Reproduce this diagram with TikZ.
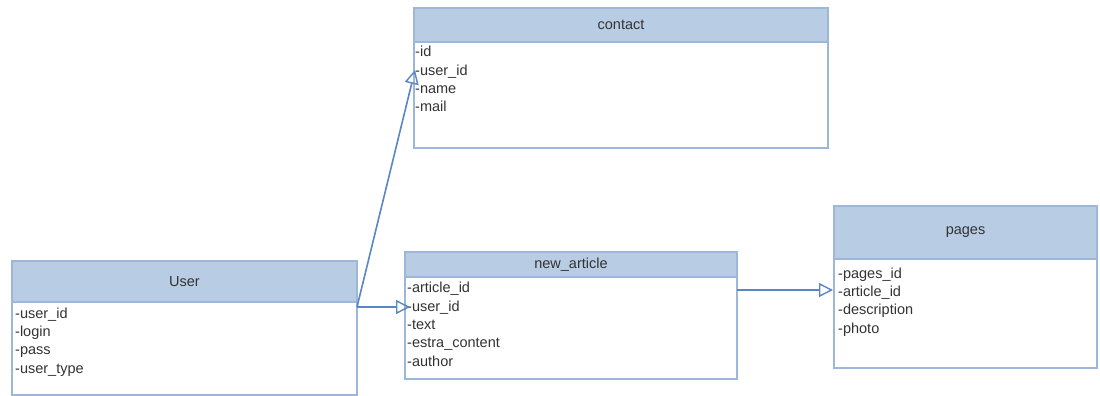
\documentclass[tikz,border=0pt]{standalone}
\usepackage{fontspec}
\setmainfont{Liberation Sans}
\usetikzlibrary{arrows.meta}
\definecolor{hdr}{HTML}{B8CCE4}
\definecolor{edge}{HTML}{9DB7DA}
\definecolor{link}{HTML}{5A86C2}
\definecolor{ink}{HTML}{333333}
\begin{document}
\begin{tikzpicture}[x=1pt,y=-1pt,
  box/.style={draw=edge, line width=1.3pt, fill=white, anchor=north west,
    inner sep=0pt, outer sep=0pt},
  head/.style={draw=edge, line width=1.3pt, fill=hdr, anchor=north west,
    inner sep=0pt, outer sep=0pt, text=ink, font=\fontsize{14.5}{17}\selectfont},
  attr/.style={anchor=west, inner sep=0pt, text height=10pt, text depth=3pt,
    text=ink, font=\fontsize{14.5}{17}\selectfont},
  rel/.style={draw=link, line width=1.6pt,
    -{Triangle[open, length=14pt, width=14pt, line width=1.4pt]}}]
\useasboundingbox (0,0) rectangle (1100,396);
\fill[white] (0,0) rectangle (1100,396);

% contact table
\node[box, minimum width=414pt, minimum height=140pt] (contact) at (414,8) {};
\node[head, minimum width=414pt, minimum height=34pt] (contactH) at (414,8) {contact};
\node[attr] (c1) at (415,53) {-id};
\node[attr] (c2) at (415,72) {-user\_id};
\node[attr] (c3) at (415,90) {-name};
\node[attr] (c4) at (415,108) {-mail};

% User table
\node[box, minimum width=345pt, minimum height=134pt] (user) at (12,261) {};
\node[head, minimum width=345pt, minimum height=41pt] (userH) at (12,261) {User};
\node[attr] (u1) at (15,315) {-user\_id};
\node[attr] (u2) at (15,333) {-login};
\node[attr] (u3) at (15,351) {-pass};
\node[attr] (u4) at (15,370) {-user\_type};

% new_article table
\node[box, minimum width=332pt, minimum height=127pt] (article) at (405,252) {};
\node[head, minimum width=332pt, minimum height=25pt] (articleH) at (405,252) {new\_article};
\node[attr] (a1) at (407,289) {-article\_id};
\node[attr] (a2) at (407,308) {-user\_id};
\node[attr] (a3) at (407,326) {-text};
\node[attr] (a4) at (407,344) {-estra\_content};
\node[attr] (a5) at (407,363) {-author};

% pages table
\node[box, minimum width=263pt, minimum height=162pt] (pages) at (834,206) {};
\node[head, minimum width=263pt, minimum height=53pt] (pagesH) at (834,206) {pages};
\node[attr] (p1) at (838,275) {-pages\_id};
\node[attr] (p2) at (838,293) {-article\_id};
\node[attr] (p3) at (838,311) {-description};
\node[attr] (p4) at (838,330) {-photo};

% relations
\draw[rel] ([yshift=1pt]user.east |- a2.west) -- ([xshift=3pt,yshift=1pt]a2.west);
\draw[rel] ([yshift=1pt]user.east |- a2.west) -- ([yshift=2pt]c2.west);
\draw[rel] ([yshift=3pt]article.east |- p2.west) -- ([xshift=-5pt,yshift=3pt]p2.west);
\end{tikzpicture}
\end{document}
